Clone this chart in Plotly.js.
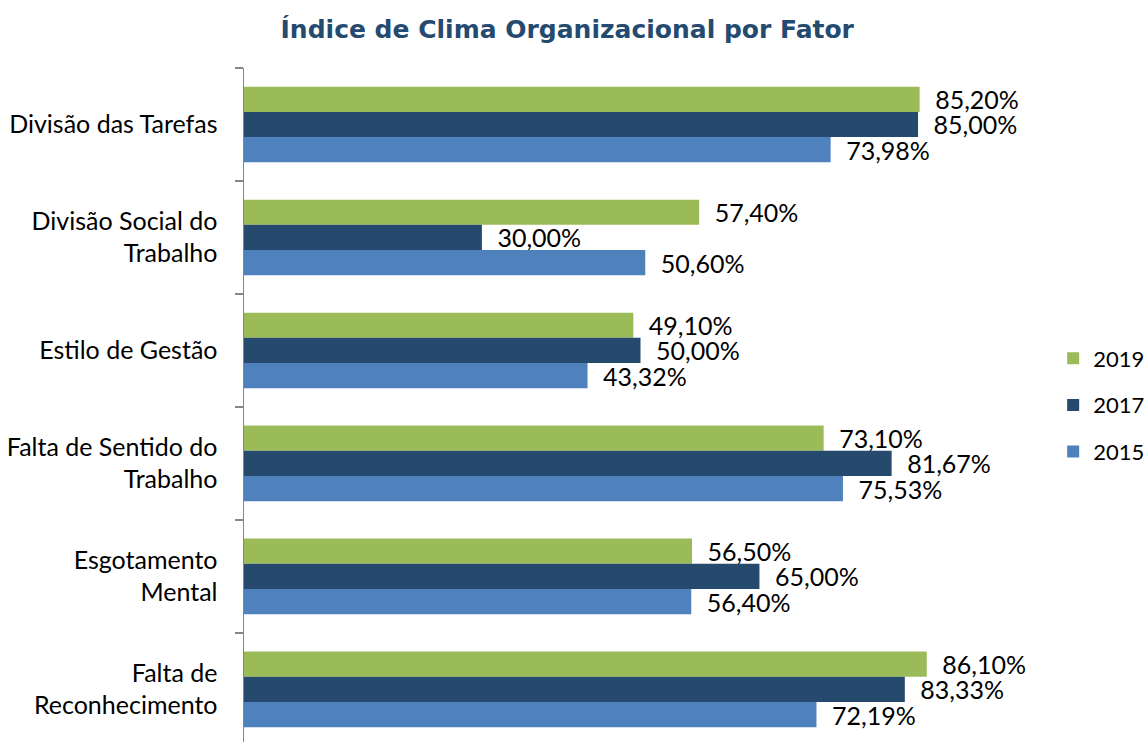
<!DOCTYPE html>
<html><head><meta charset="utf-8">
<script src="https://cdn.plot.ly/plotly-3.0.1.min.js"></script>
<style>html,body{margin:0;padding:0;background:#fff}</style>
</head><body>
<div id="chart" style="width:1146px;height:742px"></div>
<script>
const categories = ["Divisão das Tarefas", "Divisão Social do<br>Trabalho", "Estilo de Gestão",
  "Falta de Sentido do<br>Trabalho", "Esgotamento<br>Mental", "Falta de<br>Reconhecimento"];
const years = ["2019", "2017", "2015"];
const values2019 = [85.20, 57.40, 49.10, 73.10, 56.50, 86.10];
const values2017 = [85.00, 30.00, 50.00, 81.67, 65.00, 83.33];
const values2015 = [73.98, 50.60, 43.32, 75.53, 56.40, 72.19];
const colors = ["#9BBB59", "#264A6E", "#4F81BD"];
const series = [values2019, values2017, values2015];

const traces = series.map((vals, i) => ({
  type: "bar", orientation: "h",
  y: categories, x: vals, name: years[i], legendgroup: years[i],
  marker: {color: colors[i]},
  texttemplate: "\u2002%{x:.2f}%", textposition: "outside", constraintext: "none",
  textfont: {family: "Lato, sans-serif", size: 25, color: "#000"},
  cliponaxis: false, hoverinfo: "skip"
}));

const layout = {
  width: 1146, height: 742,
  margin: {l: 244, r: 109, t: 68, b: 0, autoexpand: false},
  separators: ",.",
  barmode: "group", bargap: 0.33, bargroupgap: 0,
  title: {text: "Índice de Clima Organizacional por Fator", x: 0.495, xref: "container",
    y: 0.96, yref: "container", yanchor: "middle",
    font: {family: "DejaVu Sans, sans-serif", size: 25, color: "#254A70", weight: "bold"}},
  xaxis: {range: [0, 100], visible: false, fixedrange: true},
  yaxis: {range: [5.465, -0.5], type: "category", tickson: "boundaries",
    ticks: "outside", ticklen: 8, tickcolor: "#868686", tickwidth: 1.5,
    showline: true, linecolor: "#868686", linewidth: 1.5, showgrid: false,
    ticklabelstandoff: 20,
    tickfont: {family: "Lato, sans-serif", size: 25, color: "#000"}},
  legend: {xref: "container", x: 0.919, xanchor: "left", y: 0.5, yanchor: "middle", tracegroupgap: 15,
    font: {family: "Lato, sans-serif", size: 22, color: "#000"}, itemwidth: 30},
  showlegend: true,
  paper_bgcolor: "#fff", plot_bgcolor: "#fff"
};
Plotly.newPlot("chart", traces, layout, {displayModeBar: false, staticPlot: true});
</script>
</body></html>
